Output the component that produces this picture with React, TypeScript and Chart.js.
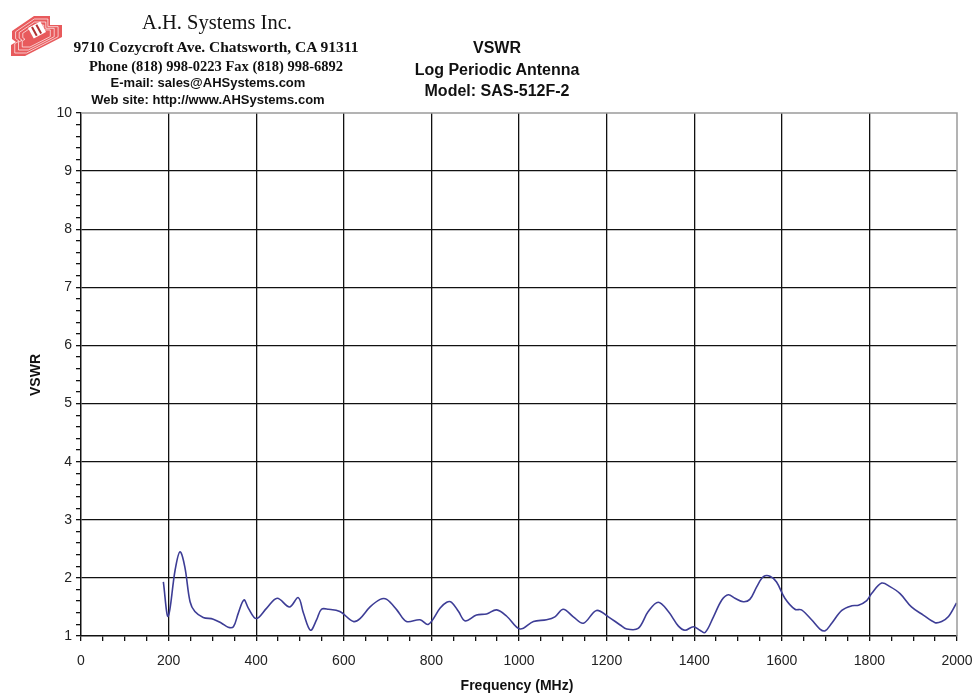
import React, { useEffect, useRef } from "react";
import { Chart, registerables } from "chart.js";

Chart.register(...registerables);

const freqMHz: number[] = [
  188, 199, 215, 226, 237, 249, 260, 279, 302, 321, 336, 348, 359, 372, 382, 400,
  424, 448, 476, 496, 508, 524, 538, 549, 565, 591, 622, 637, 660, 683, 698, 721,
  743, 774, 793, 820, 835, 846, 862, 877, 903, 926, 949, 972, 1002, 1033, 1063,
  1082, 1101, 1124, 1147, 1177, 1204, 1231, 1246, 1272, 1295, 1318, 1341, 1364,
  1379, 1398, 1413, 1425, 1444, 1463, 1478, 1493, 1512, 1527, 1543, 1558, 1573,
  1588, 1607, 1630, 1645, 1668, 1687, 1699, 1714, 1737, 1760, 1775, 1794, 1805,
  1828, 1847, 1870, 1896, 1923, 1950, 1965, 1980, 1999,
];
const vswr: number[] = [
  1.93, 1.34, 2.14, 2.45, 2.19, 1.59, 1.42, 1.32, 1.29, 1.22, 1.15, 1.16, 1.39, 1.62, 1.48, 1.3,
  1.48, 1.65, 1.5, 1.66, 1.39, 1.1, 1.28, 1.46, 1.46, 1.42, 1.25, 1.3, 1.5, 1.63, 1.63, 1.45,
  1.25, 1.28, 1.2, 1.48, 1.58, 1.58, 1.42, 1.26, 1.36, 1.38, 1.45, 1.34, 1.12, 1.25, 1.28,
  1.33, 1.46, 1.33, 1.22, 1.44, 1.33, 1.19, 1.12, 1.13, 1.42, 1.58, 1.42, 1.17,
  1.1, 1.16, 1.1, 1.06, 1.33, 1.62, 1.71, 1.65, 1.59, 1.63, 1.85, 2.02, 2.03,
  1.93, 1.65, 1.46, 1.45, 1.28, 1.12, 1.09, 1.22, 1.44, 1.52, 1.53, 1.61, 1.73,
  1.91, 1.85, 1.73, 1.5, 1.36, 1.23, 1.25, 1.33, 1.57,
];

const titleLines: string[] = ["VSWR", "Log Periodic Antenna", "Model: SAS-512F-2"];
const companyName = "A.H. Systems Inc.";
const addressLines: string[] = [
  "9710 Cozycroft Ave. Chatsworth, CA 91311",
  "Phone (818) 998-0223 Fax (818) 998-6892",
];
const contactLines: string[] = [
  "E-mail: sales@AHSystems.com",
  "Web site: http://www.AHSystems.com",
];
const xTitle = "Frequency (MHz)";
const yTitle = "VSWR";

const logoShape: [number, number][] = [
  [12, 31], [34, 16], [50, 16], [50, 25], [62, 25], [62, 37], [25, 56], [11, 56], [11, 45], [16, 42], [12, 39],
];

const logoPlugin = {
  id: "logoAndBorder",
  afterDraw(chart: any) {
    const ctx = chart.ctx as CanvasRenderingContext2D;
    const a = chart.chartArea;
    ctx.save();
    ctx.strokeStyle = "#9a9a9a";
    ctx.lineWidth = 1.5;
    ctx.beginPath();
    ctx.moveTo(a.left, a.top);
    ctx.lineTo(a.right, a.top);
    ctx.lineTo(a.right, a.bottom);
    ctx.stroke();

    const path = (s: number) => {
      const cx = 36, cy = 36;
      ctx.beginPath();
      logoShape.forEach(([x, y], i) => {
        const px = cx + (x - cx) * s;
        const py = cy + (y - cy) * s;
        if (i === 0) ctx.moveTo(px, py);
        else ctx.lineTo(px, py);
      });
      ctx.closePath();
    };
    ctx.fillStyle = "#e85a5c";
    path(1);
    ctx.fill();
    ctx.strokeStyle = "rgba(255,255,255,0.85)";
    ctx.lineWidth = 0.8;
    [0.85, 0.7, 0.55].forEach((s) => {
      path(s);
      ctx.stroke();
    });
    ctx.translate(37, 30);
    ctx.rotate(-0.5);
    ctx.fillStyle = "#ffffff";
    ctx.fillRect(-7, -6, 14, 12);
    ctx.fillStyle = "#b03030";
    ctx.fillRect(-4, -5, 2, 10);
    ctx.fillRect(1, -5, 2, 10);
    ctx.restore();
  },
};

export default function App() {
  const ref = useRef<HTMLCanvasElement | null>(null);
  useEffect(() => {
    if (!ref.current) return;
    const data = freqMHz.map((x, i) => ({ x, y: vswr[i] }));
    const isInt = (v: number) => Math.abs(v - Math.round(v)) < 1e-6;
    const chart = new Chart(ref.current, {
      type: "line",
      data: {
        datasets: [
          {
            data,
            borderColor: "#3d3d96",
            borderWidth: 1.6,
            pointRadius: 0,
            tension: 0.35,
            fill: false,
          },
        ],
      },
      options: {
        animation: false,
        responsive: false,
        maintainAspectRatio: false,
        layout: { padding: { top: 113, right: 19, left: 0, bottom: 0 } },
        plugins: { legend: { display: false }, tooltip: { enabled: false }, title: { display: false } },
        scales: {
          x: {
            type: "linear",
            min: 0,
            max: 2000,
            afterFit: (s: any) => {
              s.height = 57;
              s.paddingRight = 0;
              s.paddingLeft = 0;
            },
            afterBuildTicks: (s: any) => {
              const t = [];
              for (let v = 0; v <= 2000; v += 50) t.push({ value: v });
              s.ticks = t;
            },
            ticks: {
              autoSkip: false,
              maxRotation: 0,
              color: "#222",
              font: { family: "Arial, Liberation Sans, sans-serif", size: 14 },
              padding: 12,
              callback: (v: any) => (Number(v) % 200 === 0 ? String(v) : ""),
            },
            grid: {
              color: (c: any) => (c.tick && c.tick.value % 200 === 0 && c.tick.value > 0 && c.tick.value < 2000 ? "#111" : "rgba(0,0,0,0)"),
              lineWidth: 1.3,
              tickColor: "#111",
              tickLength: 5,
              drawTicks: true,
            },
            border: { color: "#111", width: 1.5 },
          },
          y: {
            type: "linear",
            min: 1,
            max: 10,
            afterFit: (s: any) => {
              s.width = 81;
              s.paddingTop = 0;
              s.paddingBottom = 0;
            },
            afterBuildTicks: (s: any) => {
              const t = [];
              for (let i = 0; i <= 45; i++) t.push({ value: 1 + i * 0.2 });
              s.ticks = t;
            },
            ticks: {
              autoSkip: false,
              color: "#222",
              font: { family: "Arial, Liberation Sans, sans-serif", size: 14 },
              padding: 4,
              callback: (v: any) => (isInt(Number(v)) ? String(Math.round(Number(v))) : ""),
            },
            grid: {
              color: (c: any) => {
                const v = c.tick ? c.tick.value : 0;
                return isInt(v) && v > 1.5 && v < 9.5 ? "#111" : "rgba(0,0,0,0)";
              },
              lineWidth: 1.3,
              tickColor: "#111",
              tickLength: 5,
            },
            border: { color: "#111", width: 1.5 },
          },
        },
      },
      plugins: [logoPlugin],
    });
    return () => chart.destroy();
  }, []);

  const sans = "Arial, 'Liberation Sans', sans-serif";
  const serif = "'Times New Roman', 'Liberation Serif', serif";
  const centered = (x: number, y: number): React.CSSProperties => ({
    position: "absolute",
    left: x - 300,
    width: 600,
    top: y,
    textAlign: "center",
    whiteSpace: "nowrap",
    lineHeight: 1,
  });

  return (
    <div style={{ position: "fixed", left: 0, top: 0, width: 976, height: 693, background: "#fff" }}>
      <canvas ref={ref} width={976} height={693} style={{ position: "absolute", left: 0, top: 0 }} />
      <div style={{ ...centered(217, 12), fontFamily: serif, fontSize: 20.5, color: "#111" }}>{companyName}</div>
      <div style={{ ...centered(216, 39), fontFamily: serif, fontSize: 15.5, fontWeight: "bold", color: "#111" }}>{addressLines[0]}</div>
      <div style={{ ...centered(216, 59), fontFamily: serif, fontSize: 14.5, fontWeight: "bold", color: "#111" }}>{addressLines[1]}</div>
      <div style={{ ...centered(208, 76), fontFamily: sans, fontSize: 13, fontWeight: "bold", color: "#111" }}>{contactLines[0]}</div>
      <div style={{ ...centered(208, 93), fontFamily: sans, fontSize: 13, fontWeight: "bold", color: "#111" }}>{contactLines[1]}</div>
      <div style={{ ...centered(497, 40), fontFamily: sans, fontSize: 16, fontWeight: "bold", color: "#111" }}>{titleLines[0]}</div>
      <div style={{ ...centered(497, 62), fontFamily: sans, fontSize: 16, fontWeight: "bold", color: "#111" }}>{titleLines[1]}</div>
      <div style={{ ...centered(497, 83), fontFamily: sans, fontSize: 16, fontWeight: "bold", color: "#111" }}>{titleLines[2]}</div>
      <div style={{ ...centered(517, 678), fontFamily: sans, fontSize: 14, fontWeight: "bold", color: "#111" }}>{xTitle}</div>
      <div
        style={{
          position: "absolute",
          left: 35 - 50,
          top: 375 - 8,
          width: 100,
          textAlign: "center",
          lineHeight: "16px",
          fontFamily: sans,
          fontSize: 14,
          fontWeight: "bold",
          color: "#111",
          transform: "rotate(-90deg)",
          whiteSpace: "nowrap",
        }}
      >
        {yTitle}
      </div>
    </div>
  );
}
